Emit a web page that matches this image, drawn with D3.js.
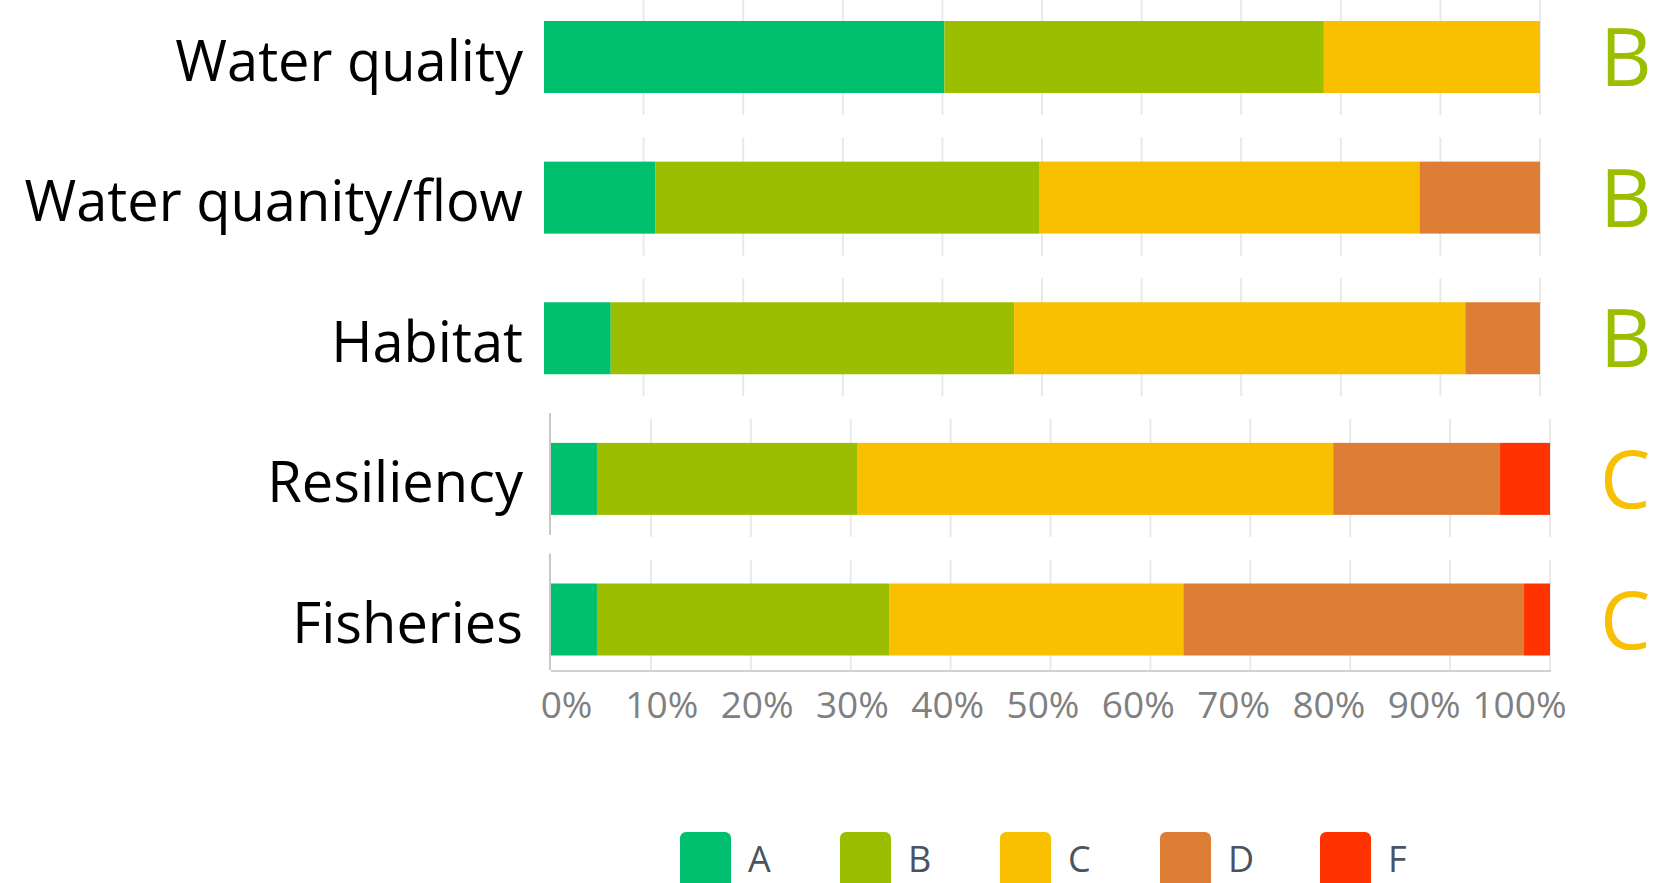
<!DOCTYPE html>
<html>
<head>
<meta charset="utf-8">
<script src="https://cdn.jsdelivr.net/npm/d3@7"></script>
<style>
  body { margin: 0; background: #fff; }
  text { font-family: "Open Sans", "Noto Sans", sans-serif; }
</style>
</head>
<body>
<script>
var categories = ["Water quality", "Water quanity/flow", "Habitat", "Resiliency", "Fisheries"];
var grades = ["A", "B", "C", "D", "F"];
var shareA = [40.2, 11.2, 6.7, 4.6, 4.6];
var shareB = [38.1, 38.5, 40.5, 26.1, 29.3];
var shareC = [21.7, 38.2, 45.3, 47.6, 29.4];
var shareD = [0, 12.1, 7.5, 16.7, 34.1];
var shareF = [0, 0, 0, 5.0, 2.6];
var overallGrade = ["B", "B", "B", "C", "C"];
var tickValues = [0, 10, 20, 30, 40, 50, 60, 70, 80, 90, 100];
var gradeColors = ["#00BF6F", "#9BBF00", "#F8C000", "#DE7E36", "#FF3300"];

var width = 1657, height = 883;

var rows = categories.map(function(c, i) {
    return {cat: c, A: shareA[i], B: shareB[i], C: shareC[i], D: shareD[i], F: shareF[i], grade: overallGrade[i], idx: i};
});

var svg = d3.select('body').append('svg').attr('width', width).attr('height', height);

// the top three rows and bottom two come from slightly different panels
var xTop = d3.scaleLinear().domain([0, 100]).range([544, 1540]);
var xBottom = d3.scaleLinear().domain([0, 100]).range([551, 1550]);
var xFor = function(i) { return i < 3 ? xTop : xBottom; };
var xLabels = d3.scaleLinear().domain([0, 100]).range([566, 1519]);

var y = d3.scalePoint().domain(categories).range([57, 619.5]);
var barH = 72;
var color = d3.scaleOrdinal().domain(grades).range(gradeColors);

var stacked = d3.stack().keys(grades)(rows);

// gridlines around each row
rows.forEach(function(r, i) {
    var x = xFor(i);
    var cy = y(r.cat);
    var bottom = i === 4 ? 670 : cy + 58;
    svg.append('g').selectAll('line')
        .data(tickValues.slice(1))
        .enter().append('line')
        .attr('x1', d => x(d)).attr('x2', d => x(d))
        .attr('y1', cy - 60).attr('y2', bottom)
        .attr('stroke', '#e9e9e9').attr('stroke-width', 2);
});

// left axis remnants of the lower panel
rows.slice(3).forEach(function(r, i) {
    var cy = y(r.cat);
    svg.append('line')
        .attr('x1', xBottom(0) - 1).attr('x2', xBottom(0) - 1)
        .attr('y1', cy - 66).attr('y2', i === 1 ? 670 : cy + 56)
        .attr('stroke', '#c9c9c9').attr('stroke-width', 2);
});
svg.append('line')
    .attr('x1', xBottom(0)).attr('x2', xBottom(100) + 1)
    .attr('y1', 671).attr('y2', 671)
    .attr('stroke', '#d2d2d2').attr('stroke-width', 2);

// stacked bars
svg.append('g').selectAll('g')
    .data(stacked)
    .enter().append('g')
    .attr('fill', d => color(d.key))
    .selectAll('rect')
    .data(d => d)
    .enter().append('rect')
    .attr('x', d => xFor(d.data.idx)(d[0]))
    .attr('width', d => xFor(d.data.idx)(d[1]) - xFor(d.data.idx)(d[0]))
    .attr('y', d => y(d.data.cat) - barH / 2)
    .attr('height', barH);

// category labels
svg.append('g').selectAll('text')
    .data(rows)
    .enter().append('text')
    .attr('x', 523)
    .attr('y', d => y(d.cat))
    .attr('dy', '0.42em')
    .attr('text-anchor', 'end')
    .attr('font-size', 56)
    .attr('fill', '#000')
    .text(d => d.cat);

// overall grade letters
svg.append('g').selectAll('text')
    .data(rows)
    .enter().append('text')
    .attr('x', 1600)
    .attr('y', d => y(d.cat) + 29)
    .attr('font-size', 80)
    .attr('fill', d => color(d.grade))
    .text(d => d.grade);

// x axis labels
var xAxis = d3.axisBottom(xLabels)
    .tickValues(tickValues)
    .tickFormat(d => d + '%')
    .tickSize(0);
var gx = svg.append('g').attr('transform', 'translate(0,689)').call(xAxis);
gx.select('.domain').remove();
gx.selectAll('text')
    .attr('font-size', 37)
    .attr('fill', '#808080')
    .style('font-family', '"Open Sans", sans-serif');

// legend
var legend = svg.append('g').selectAll('g')
    .data(grades)
    .enter().append('g')
    .attr('transform', (d, i) => 'translate(' + (680 + i * 160) + ',832)');
legend.append('rect')
    .attr('width', 51).attr('height', 56)
    .attr('rx', 6)
    .attr('fill', d => color(d));
legend.append('text')
    .attr('x', 68).attr('y', 40)
    .attr('font-size', 36)
    .attr('fill', '#4a5360')
    .text(d => d);
</script>
</body>
</html>
